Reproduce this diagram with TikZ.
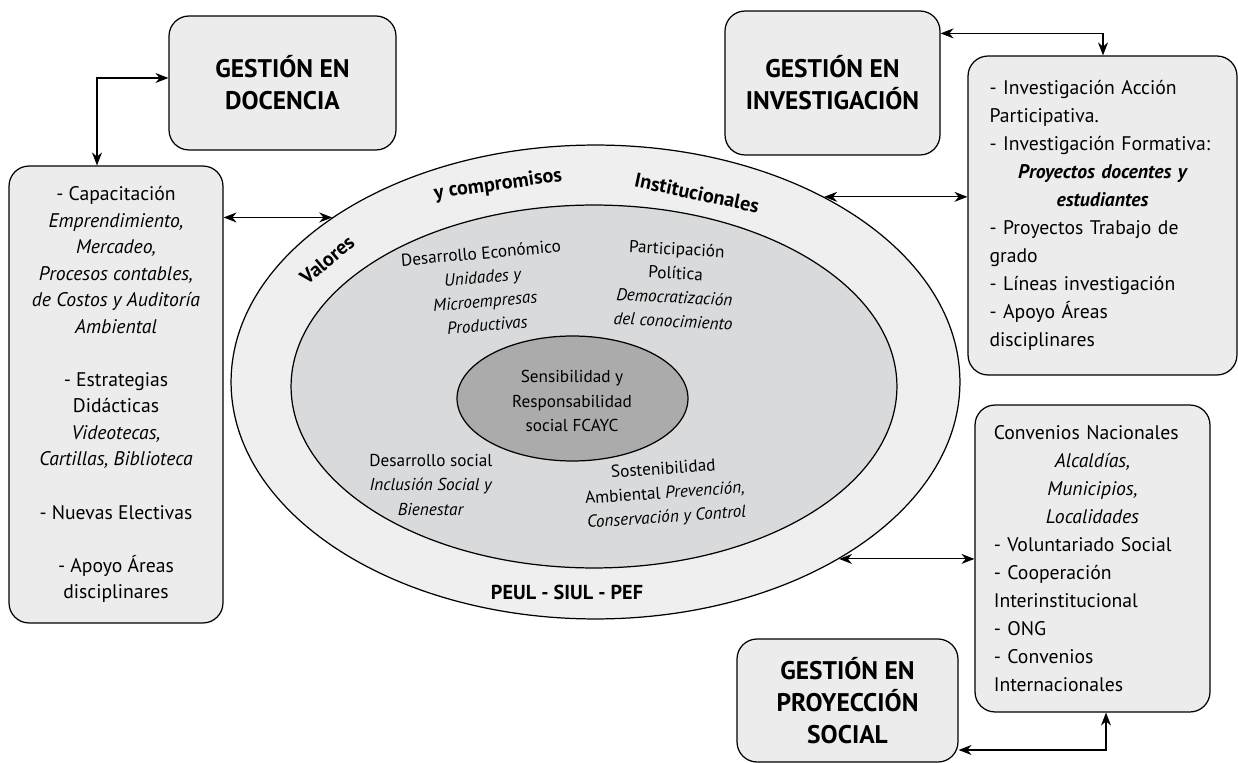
\documentclass[tikz,border=0pt]{standalone}
\usepackage{fontspec}
\setmainfont{PT Sans}
\usetikzlibrary{arrows.meta,shapes.geometric}
\definecolor{boxgray}{RGB}{235,236,235}
\definecolor{ringgray}{RGB}{238,239,238}
\definecolor{midgray}{RGB}{217,218,219}
\definecolor{coregray}{RGB}{171,171,171}

\begin{document}
\begin{tikzpicture}[x=0.02cm, y=-0.02cm,
    box/.style={draw, line width=0.7pt, rounded corners=0.4cm, fill=boxgray, inner sep=0pt},
    head/.style={font=\fontsize{14.5}{18.2}\selectfont\bfseries, align=center},
    list/.style={font=\fontsize{11.2}{15.9}\selectfont},
    ringlabel/.style={font=\fontsize{11.5}{12}\selectfont\bfseries},
    inner/.style={font=\fontsize{9.8}{13.7}\selectfont, align=center},
    link/.style={{Stealth[length=2.6mm,width=2mm]}-{Stealth[length=2.6mm,width=2mm]}, line width=0.6pt}]
    \useasboundingbox (0,0) rectangle (1238,763);

    % ellipses
    \node[draw, ellipse, line width=0.7pt, fill=ringgray, inner sep=0pt,
          minimum width=14.58cm, minimum height=9.48cm] (valores) at (595.5,382) {};
    \node[draw, ellipse, line width=0.7pt, fill=midgray, inner sep=0pt,
          minimum width=12.12cm, minimum height=7.26cm] (desarrollo) at (594,386.5) {};
    \node[draw, ellipse, line width=0.7pt, fill=coregray, inner sep=0pt,
          minimum width=4.62cm, minimum height=2.5cm] (nucleo) at (572.5,398.5) {};

    % ring labels
    \node[ringlabel, rotate=40] at (327,260) {Valores};
    \node[ringlabel, rotate=8] at (498,185) {y compromisos};
    \node[ringlabel, rotate=-12] at (697,193) {Institucionales};
    \node[ringlabel] at (567,592) {PEUL - SIUL - PEF};

    % inner texts
    \node[inner, rotate=5] at (484,289) {Desarrollo Económico\\\textit{Unidades y}\\\textit{Microempresas}\\\textit{Productivas}};
    \node[inner, rotate=-3] at (675,285) {Participación\\Política\\\textit{Democratización}\\\textit{del conocimiento}};
    \node[inner] at (572,401) {Sensibilidad y\\Responsabilidad\\social FCAYC};
    \node[inner] at (431,485) {Desarrollo social\\\textit{Inclusión Social y}\\\textit{Bienestar}};
    \node[inner, rotate=4] at (665,494) {Sostenibilidad\\Ambiental \textit{Prevención,}\\\textit{Conservación y Control}};

    % docencia
    \node[box, head, minimum width=4.54cm, minimum height=2.68cm] (docgest) at (282.5,83) {GESTIÓN EN\\DOCENCIA};
    \node[box, list, align=center, font=\fontsize{11.2}{15.1}\selectfont,
          minimum width=4.28cm, minimum height=9.14cm] (capbox) at (116,394.5)
          {- Capacitación\\\textit{Emprendimiento,}\\\textit{Mercadeo,}\\\textit{Procesos contables,}\\\textit{de Costos y Auditoría}\\\textit{Ambiental}\\[15.1pt]
           - Estrategias\\Didácticas\\\textit{Videotecas,}\\\textit{Cartillas, Biblioteca}\\[15.1pt]
           - Nuevas Electivas\\[15.1pt]
           - Apoyo Áreas\\disciplinares};

    % investigacion
    \node[box, head, minimum width=4.3cm, minimum height=2.88cm] (invgest) at (832.5,83) {GESTIÓN EN\\INVESTIGACIÓN};
    \node[box, list, align=left, text width=4.52cm, inner xsep=0.43cm,
          minimum height=6.38cm] (invlist) at (1102.5,215.5)
          {- Investigación Acción\\Participativa.\\- Investigación Formativa:\\
           \makebox[\linewidth][c]{\bfseries\itshape Proyectos docentes y}\\
           \makebox[\linewidth][c]{\bfseries\itshape estudiantes}\\
           - Proyectos Trabajo de\\grado\\- Líneas investigación\\- Apoyo Áreas\\disciplinares};

    % proyeccion social
    \node[box, head, minimum width=4.42cm, minimum height=2.46cm] (projgest) at (847.5,700.5) {GESTIÓN EN\\PROYECCIÓN\\SOCIAL};
    \node[box, list, align=left, text width=3.95cm, inner xsep=0.375cm,
          minimum height=6.14cm] (convbox) at (1092.5,558.5)
          {Convenios Nacionales\\
           \makebox[\linewidth][c]{\itshape Alcaldías,}\\
           \makebox[\linewidth][c]{\itshape Municipios,}\\
           \makebox[\linewidth][c]{\itshape Localidades}\\
           - Voluntariado Social\\- Cooperación\\Interinstitucional\\- ONG\\- Convenios\\Internacionales};

    % arrows
    \draw[link] ([yshift=0.1cm]docgest.west) -| ([xshift=-0.38cm]capbox.north);
    \draw[link] (capbox.east |- valores.148.3) -- (valores.148.3);
    \draw[link] ([yshift=-0.46cm]invgest.north east) -| ([xshift=0.01cm]invlist.north);
    \draw[link] (valores.39.5) -- (invlist.west |- valores.39.5);
    \draw[link] (valores.-36) -- (convbox.west |- valores.-36);
    \draw[link] ([yshift=-0.99cm]projgest.east) -| ([xshift=0.27cm]convbox.south);
\end{tikzpicture}
\end{document}
